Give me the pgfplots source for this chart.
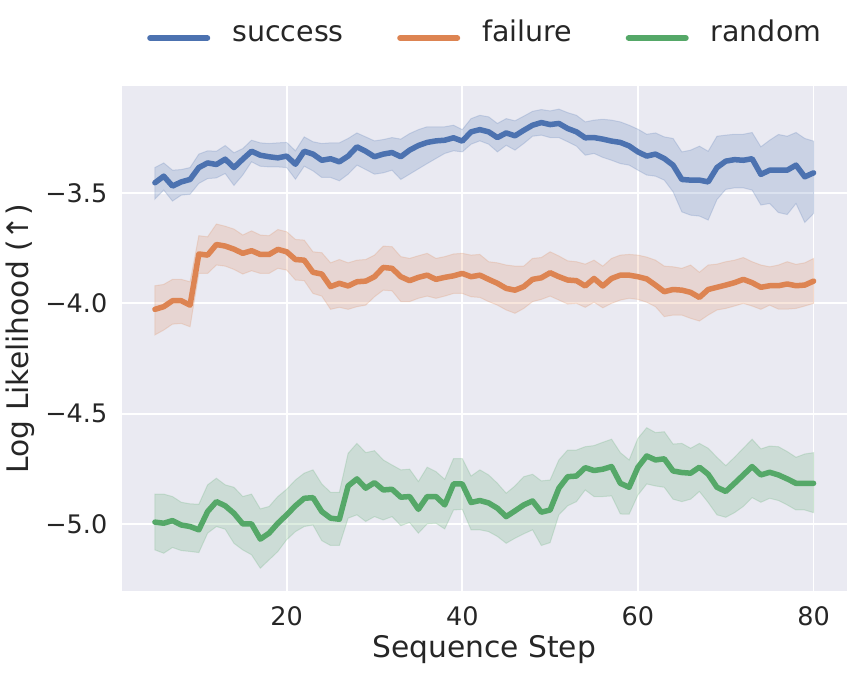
\documentclass[border=0pt]{standalone}
\usepackage{fontspec}
\setmainfont{DejaVu Sans}
\usepackage{pgfplots}
\pgfplotsset{compat=1.18}
\usepackage{pgfplotstable}
\usepgfplotslibrary{fillbetween}
\definecolor{cblue}{HTML}{4C72B0}
\definecolor{corange}{HTML}{DD8452}
\definecolor{cgreen}{HTML}{55A868}
\definecolor{bgc}{HTML}{EAEAF2}
\definecolor{txt}{HTML}{262626}

\pgfplotstableread{
x m lo hi
5 -3.453 -3.527 -3.384
6 -3.423 -3.486 -3.363
7 -3.468 -3.536 -3.396
8 -3.449 -3.509 -3.393
9 -3.438 -3.505 -3.384
10 -3.384 -3.456 -3.323
11 -3.363 -3.434 -3.308
12 -3.370 -3.431 -3.310
13 -3.346 -3.411 -3.284
14 -3.384 -3.465 -3.317
15 -3.346 -3.418 -3.298
16 -3.310 -3.358 -3.260
17 -3.328 -3.378 -3.272
18 -3.335 -3.381 -3.275
19 -3.340 -3.381 -3.272
20 -3.332 -3.384 -3.270
21 -3.369 -3.437 -3.308
22 -3.310 -3.378 -3.245
23 -3.323 -3.399 -3.267
24 -3.351 -3.429 -3.275
25 -3.344 -3.429 -3.272
26 -3.358 -3.444 -3.272
27 -3.332 -3.414 -3.252
28 -3.290 -3.373 -3.227
29 -3.310 -3.393 -3.245
30 -3.335 -3.414 -3.263
31 -3.323 -3.408 -3.257
32 -3.316 -3.396 -3.248
33 -3.335 -3.438 -3.255
34 -3.305 -3.414 -3.230
35 -3.284 -3.390 -3.212
36 -3.270 -3.366 -3.199
37 -3.263 -3.343 -3.199
38 -3.260 -3.320 -3.199
39 -3.249 -3.308 -3.192
40 -3.264 -3.313 -3.212
41 -3.222 -3.278 -3.162
42 -3.212 -3.263 -3.147
43 -3.222 -3.278 -3.154
44 -3.248 -3.313 -3.184
45 -3.227 -3.283 -3.162
46 -3.240 -3.305 -3.172
47 -3.215 -3.275 -3.151
48 -3.192 -3.242 -3.129
49 -3.180 -3.237 -3.121
50 -3.189 -3.248 -3.127
51 -3.184 -3.248 -3.119
52 -3.207 -3.267 -3.135
53 -3.222 -3.287 -3.147
54 -3.249 -3.328 -3.177
55 -3.248 -3.320 -3.169
56 -3.255 -3.338 -3.165
57 -3.264 -3.351 -3.169
58 -3.270 -3.366 -3.177
59 -3.286 -3.373 -3.192
60 -3.313 -3.396 -3.210
61 -3.332 -3.418 -3.233
62 -3.323 -3.423 -3.227
63 -3.343 -3.441 -3.245
64 -3.373 -3.494 -3.252
65 -3.438 -3.585 -3.313
66 -3.441 -3.600 -3.305
67 -3.441 -3.604 -3.287
68 -3.449 -3.622 -3.310
69 -3.384 -3.529 -3.242
70 -3.355 -3.483 -3.237
71 -3.348 -3.476 -3.233
72 -3.351 -3.476 -3.233
73 -3.344 -3.486 -3.225
74 -3.415 -3.554 -3.290
75 -3.396 -3.547 -3.260
76 -3.396 -3.588 -3.234
77 -3.396 -3.597 -3.242
78 -3.373 -3.547 -3.225
79 -3.426 -3.633 -3.252
80 -3.408 -3.592 -3.264
}\success

\pgfplotstableread{
x m lo hi
5 -4.027 -4.143 -3.920
6 -4.015 -4.121 -3.914
7 -3.988 -4.094 -3.891
8 -3.988 -4.091 -3.891
9 -4.008 -4.106 -3.902
10 -3.776 -3.864 -3.693
11 -3.781 -3.864 -3.698
12 -3.733 -3.826 -3.640
13 -3.740 -3.831 -3.650
14 -3.754 -3.846 -3.663
15 -3.773 -3.867 -3.690
16 -3.761 -3.852 -3.671
17 -3.778 -3.864 -3.690
18 -3.778 -3.864 -3.693
19 -3.755 -3.841 -3.665
20 -3.766 -3.849 -3.675
21 -3.801 -3.894 -3.710
22 -3.804 -3.897 -3.713
23 -3.859 -3.955 -3.766
24 -3.867 -3.967 -3.770
25 -3.924 -4.027 -3.816
26 -3.909 -4.018 -3.801
27 -3.921 -4.027 -3.816
28 -3.902 -4.015 -3.804
29 -3.899 -4.008 -3.801
30 -3.879 -3.970 -3.781
31 -3.837 -3.940 -3.740
32 -3.841 -3.943 -3.743
33 -3.879 -3.992 -3.788
34 -3.897 -3.992 -3.796
35 -3.882 -3.977 -3.784
36 -3.872 -3.967 -3.773
37 -3.891 -3.977 -3.796
38 -3.882 -3.967 -3.788
39 -3.875 -3.955 -3.776
40 -3.864 -3.955 -3.773
41 -3.879 -3.970 -3.781
42 -3.872 -3.973 -3.778
43 -3.891 -3.992 -3.811
44 -3.909 -4.008 -3.816
45 -3.932 -4.030 -3.826
46 -3.940 -4.045 -3.831
47 -3.924 -4.023 -3.831
48 -3.891 -3.992 -3.796
49 -3.884 -3.982 -3.792
50 -3.861 -3.967 -3.766
51 -3.879 -3.985 -3.785
52 -3.894 -4.003 -3.807
53 -3.897 -4.000 -3.811
54 -3.921 -4.018 -3.822
55 -3.887 -3.995 -3.804
56 -3.921 -4.020 -3.831
57 -3.887 -4.000 -3.796
58 -3.872 -3.985 -3.781
59 -3.872 -3.977 -3.778
60 -3.879 -3.982 -3.781
61 -3.889 -3.995 -3.790
62 -3.917 -4.015 -3.804
63 -3.947 -4.060 -3.831
64 -3.937 -4.053 -3.834
65 -3.940 -4.053 -3.841
66 -3.950 -4.068 -3.826
67 -3.973 -4.080 -3.859
68 -3.937 -4.053 -3.826
69 -3.927 -4.030 -3.822
70 -3.917 -4.023 -3.811
71 -3.906 -4.012 -3.804
72 -3.891 -4.000 -3.792
73 -3.906 -4.012 -3.811
74 -3.927 -4.027 -3.826
75 -3.920 -4.008 -3.834
76 -3.920 -4.026 -3.826
77 -3.912 -4.026 -3.811
78 -3.920 -4.023 -3.823
79 -3.917 -4.012 -3.816
80 -3.899 -4.000 -3.796
}\failure

\pgfplotstableread{
x m lo hi
5 -4.992 -5.118 -4.865
6 -4.997 -5.133 -4.865
7 -4.985 -5.107 -4.876
8 -5.005 -5.121 -4.902
9 -5.012 -5.125 -4.909
10 -5.027 -5.130 -4.911
11 -4.944 -5.042 -4.823
12 -4.899 -5.012 -4.793
13 -4.918 -5.024 -4.823
14 -4.952 -5.088 -4.834
15 -5.000 -5.118 -4.876
16 -5.000 -5.140 -4.865
17 -5.069 -5.201 -4.932
18 -5.042 -5.163 -4.921
19 -4.997 -5.125 -4.876
20 -4.959 -5.072 -4.843
21 -4.918 -5.035 -4.801
22 -4.884 -5.012 -4.770
23 -4.881 -5.005 -4.755
24 -4.944 -5.076 -4.819
25 -4.974 -5.098 -4.857
26 -4.979 -5.098 -4.857
27 -4.828 -4.974 -4.680
28 -4.796 -4.959 -4.635
29 -4.838 -4.989 -4.677
30 -4.813 -4.967 -4.668
31 -4.846 -4.982 -4.710
32 -4.843 -4.967 -4.733
33 -4.879 -5.008 -4.755
34 -4.876 -4.994 -4.752
35 -4.934 -5.042 -4.808
36 -4.876 -5.000 -4.743
37 -4.876 -4.997 -4.763
38 -4.914 -5.023 -4.798
39 -4.819 -4.937 -4.704
40 -4.819 -4.934 -4.704
41 -4.903 -5.027 -4.783
42 -4.894 -5.027 -4.755
43 -4.905 -5.035 -4.778
44 -4.929 -5.057 -4.816
45 -4.967 -5.088 -4.861
46 -4.941 -5.065 -4.828
47 -4.914 -5.045 -4.786
48 -4.896 -5.027 -4.775
49 -4.947 -5.098 -4.805
50 -4.937 -5.085 -4.801
51 -4.838 -4.959 -4.710
52 -4.786 -4.918 -4.665
53 -4.783 -4.899 -4.665
54 -4.745 -4.846 -4.650
55 -4.758 -4.876 -4.645
56 -4.752 -4.876 -4.630
57 -4.740 -4.873 -4.616
58 -4.816 -4.955 -4.677
59 -4.834 -4.956 -4.710
60 -4.743 -4.869 -4.612
61 -4.692 -4.819 -4.564
62 -4.710 -4.828 -4.586
63 -4.705 -4.834 -4.582
64 -4.760 -4.888 -4.638
65 -4.767 -4.899 -4.635
66 -4.770 -4.888 -4.657
67 -4.743 -4.853 -4.635
68 -4.775 -4.903 -4.657
69 -4.834 -4.959 -4.698
70 -4.853 -4.970 -4.736
71 -4.816 -4.949 -4.698
72 -4.778 -4.921 -4.657
73 -4.740 -4.881 -4.616
74 -4.778 -4.902 -4.660
75 -4.766 -4.884 -4.647
76 -4.778 -4.894 -4.650
77 -4.796 -4.914 -4.672
78 -4.816 -4.937 -4.698
79 -4.816 -4.937 -4.683
80 -4.816 -4.949 -4.677
}\randomdata

\begin{document}
\begin{tikzpicture}
\begin{axis}[
  at={(0,0)}, anchor=south west,
  scale only axis, width=724.5bp, height=504.5bp,
  xmin=1.25, xmax=83.75, ymin=-5.303, ymax=-3.015,
  axis background/.style={fill=bgc},
  axis line style={draw=none},
  major tick length=0pt,
  grid=major, grid style={white, line width=1.8bp},
  xtick={20,40,60,80}, xticklabels={20,40,60,80},
  ytick={-5,-4.5,-4,-3.5}, yticklabels={−5.0,−4.5,−4.0,−3.5},
  tick label style={font=\fontsize{25.5bp}{30bp}\selectfont, text=txt, inner sep=0pt},
  xticklabel style={anchor=north, yshift=-16bp},
  yticklabel style={anchor=east, xshift=-14.5bp},
  xlabel={Sequence Step}, ylabel={Log Likelihood (↑)},
  label style={font=\fontsize{29.7bp}{34bp}\selectfont, text=txt, inner sep=0pt},
  xlabel style={at={(axis description cs:0.5,0)}, anchor=north, yshift=-45bp},
  ylabel style={at={(axis description cs:-0.1205,0.5)}, anchor=south},
  legend columns=3,
  legend cell align=left,
  legend style={at={(axis description cs:0.5,1.0955)}, anchor=center, draw=none, fill=none,
    font=\fontsize{28.5bp}{34bp}\selectfont, text=txt,
    nodes={inner sep=0pt, text height=0.8em, text depth=0.12em},
    /tikz/every odd column/.append style={column sep=22bp},
    /tikz/every even column/.append style={column sep=53.5bp}},
  legend image code/.code={\draw[#1, line width=6bp, line cap=round] (0bp,0bp) -- (57bp,0bp);},
]
% success
\addplot[name path=sA, draw=none, forget plot] table[x=x,y=lo]{\success};
\addplot[name path=sB, draw=none, forget plot] table[x=x,y=hi]{\success};
\addplot[fill=cblue, fill opacity=0.2, draw=cblue, draw opacity=0.2, line width=1bp, forget plot] fill between[of=sA and sB];
\addplot[cblue, line width=5.5bp, line join=round, line cap=round] table[x=x,y=m]{\success};
\addlegendentry{success}
% failure
\addplot[name path=fA, draw=none, forget plot] table[x=x,y=lo]{\failure};
\addplot[name path=fB, draw=none, forget plot] table[x=x,y=hi]{\failure};
\addplot[fill=corange, fill opacity=0.2, draw=corange, draw opacity=0.2, line width=1bp, forget plot] fill between[of=fA and fB];
\addplot[corange, line width=5.5bp, line join=round, line cap=round] table[x=x,y=m]{\failure};
\addlegendentry{failure}
% random
\addplot[name path=rA, draw=none, forget plot] table[x=x,y=lo]{\randomdata};
\addplot[name path=rB, draw=none, forget plot] table[x=x,y=hi]{\randomdata};
\addplot[fill=cgreen, fill opacity=0.2, draw=cgreen, draw opacity=0.2, line width=1bp, forget plot] fill between[of=rA and rB];
\addplot[cgreen, line width=5.5bp, line join=round, line cap=round] table[x=x,y=m]{\randomdata};
\addlegendentry{random}
\end{axis}
\pgfresetboundingbox
\path[use as bounding box] (-122bp,-83.3bp) rectangle (735bp,590.7bp);
\end{tikzpicture}
\end{document}
